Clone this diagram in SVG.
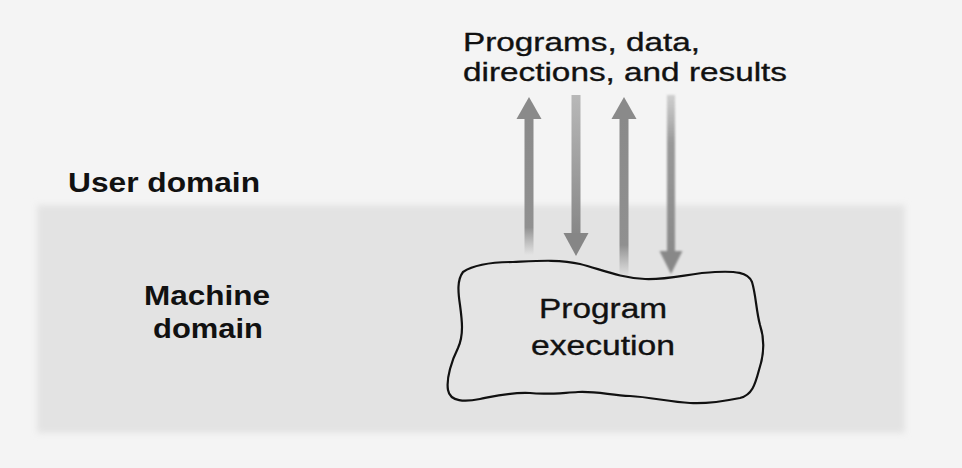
<svg xmlns="http://www.w3.org/2000/svg" width="962" height="468" viewBox="0 0 962 468">
  <style>
    .lbl { font-family: "Liberation Sans", Arial, sans-serif; fill: #111; }
    .bold { font-weight: bold; }
    .thin { stroke: #111; stroke-width: 0.35; }
    .norm { font-size: 26px; }
    .big { font-size: 28px; }
    .mid { font-size: 27px; }
    .cloud { fill: #e4e4e4; stroke: #111; stroke-width: 2.2; stroke-linejoin: round; }
  </style>
  <defs>
    <filter id="soft" x="-5%" y="-5%" width="110%" height="110%">
      <feGaussianBlur stdDeviation="3"/>
    </filter>
    <filter id="blur1" x="-50%" y="-10%" width="200%" height="120%">
      <feGaussianBlur stdDeviation="0.9"/>
    </filter>
    <linearGradient id="fadeUp1" x1="0" y1="0" x2="0" y2="1">
      <stop offset="0" stop-color="#8a8a8a"/>
      <stop offset="0.8" stop-color="#909090"/>
      <stop offset="1" stop-color="#9a9a9a" stop-opacity="0"/>
    </linearGradient>
    <linearGradient id="fadeDown" x1="0" y1="0" x2="0" y2="1">
      <stop offset="0" stop-color="#b8b8b8"/>
      <stop offset="1" stop-color="#878787"/>
    </linearGradient>
    <linearGradient id="fadeDown4" x1="0" y1="0" x2="0" y2="1">
      <stop offset="0" stop-color="#a8a8a8" stop-opacity="0.5"/>
      <stop offset="0.3" stop-color="#999"/>
      <stop offset="1" stop-color="#8a8a8a"/>
    </linearGradient>
  </defs>

  <rect width="962" height="468" fill="#f4f4f4"/>
  <g id="machine-band">
    <rect x="37" y="205" width="868" height="228" fill="#e3e3e3" filter="url(#soft)"/>
  </g>

  <g id="user-domain-label">
    <text class="lbl bold big" x="68" y="192" textLength="192" lengthAdjust="spacingAndGlyphs">User domain</text>
  </g>

  <g id="machine-domain-label">
    <text class="lbl bold big" x="144" y="305" textLength="126" lengthAdjust="spacingAndGlyphs">Machine</text>
    <text class="lbl bold big" x="153" y="338" textLength="110" lengthAdjust="spacingAndGlyphs">domain</text>
  </g>

  <g id="io-label">
    <text class="lbl thin norm" x="463" y="51" textLength="237" lengthAdjust="spacingAndGlyphs">Programs, data,</text>
    <text class="lbl thin norm" x="463" y="81" textLength="324" lengthAdjust="spacingAndGlyphs">directions, and results</text>
  </g>

  <g id="program-execution">
    <path class="cloud" d="M 463,272 C 475,264 495,262 513,262 C 535,261 560,259 580,264 C 600,269 620,278 645,279 C 670,280 690,273 715,272 C 735,271 748,272 752,282 C 756,295 756,310 760,325 C 765,340 764,355 759,370 C 755,385 752,395 740,398 C 725,401 705,404 690,403 C 670,402 650,397 630,396 C 610,395 595,391 578,392 C 560,393 545,395 530,393 C 510,392 495,396 480,399 C 465,402 450,402 448,390 C 446,378 452,360 458,348 C 464,335 462,320 460,305 C 458,292 457,280 463,272 Z"/>
    <text class="lbl thin mid" x="539" y="318" textLength="128" lengthAdjust="spacingAndGlyphs">Program</text>
    <text class="lbl thin mid" x="531" y="355" textLength="144" lengthAdjust="spacingAndGlyphs">execution</text>
  </g>

  <g id="connectors">
    <!-- arrow 1: up -->
    <rect x="524.5" y="117" width="9" height="138" fill="url(#fadeUp1)"/>
    <polygon points="516.5,119 529,97 541.5,119" fill="#8a8a8a"/>
    <!-- arrow 2: down -->
    <rect x="571.5" y="95" width="9" height="140" fill="url(#fadeDown)"/>
    <polygon points="563.5,233 588.5,233 576,256" fill="#868686"/>
    <!-- arrow 3: up -->
    <rect x="619.5" y="117" width="9" height="160" fill="url(#fadeUp1)"/>
    <polygon points="611.5,119 624,97 636.5,119" fill="#8a8a8a"/>
    <!-- arrow 4: down (soft) -->
    <g filter="url(#blur1)">
      <rect x="667" y="95" width="8" height="158" fill="url(#fadeDown4)"/>
      <polygon points="659.5,251 682.5,251 671,274" fill="#888"/>
    </g>
  </g>
</svg>
